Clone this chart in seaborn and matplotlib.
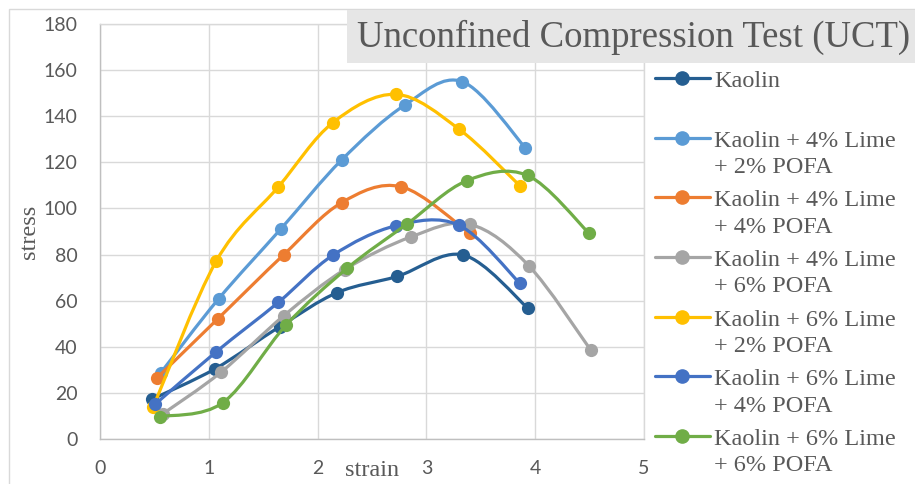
import numpy as np
import pandas as pd
import matplotlib
matplotlib.use("Agg")
import matplotlib.pyplot as plt
from matplotlib.path import Path
from matplotlib.patches import PathPatch, Rectangle
from matplotlib.lines import Line2D
from matplotlib.legend_handler import HandlerLine2D
import seaborn as sns

# ---------------- data ----------------
series_names = [
    "Kaolin\n ",
    "Kaolin + 4% Lime\n+ 2% POFA",
    "Kaolin + 4% Lime\n+ 4% POFA",
    "Kaolin + 4% Lime\n+ 6% POFA",
    "Kaolin + 6% Lime\n+ 2% POFA",
    "Kaolin + 6% Lime\n+ 4% POFA",
    "Kaolin + 6% Lime\n+ 6% POFA",
]
strain_kaolin = [0.48, 1.06, 1.65, 2.18, 2.73, 3.34, 3.93]
stress_kaolin = [17.3, 30.5, 48.7, 63.5, 70.5, 79.8, 56.9]
strain_l4p2 = [0.56, 1.09, 1.66, 2.22, 2.80, 3.33, 3.91]
stress_l4p2 = [28.8, 60.8, 91.0, 121.0, 144.8, 155.0, 126.3]
strain_l4p4 = [0.52, 1.08, 1.69, 2.22, 2.77, 3.40]
stress_l4p4 = [26.3, 52.0, 80.0, 102.5, 109.4, 89.2]
strain_l4p6 = [0.58, 1.11, 1.69, 2.25, 2.86, 3.40, 3.94, 4.51]
stress_l4p6 = [11.0, 28.9, 53.5, 73.5, 87.7, 93.1, 75.2, 38.6]
strain_l6p2 = [0.49, 1.07, 1.64, 2.14, 2.72, 3.30, 3.86]
stress_l6p2 = [14.0, 77.3, 109.4, 137.2, 149.5, 134.4, 109.8]
strain_l6p4 = [0.51, 1.07, 1.64, 2.14, 2.72, 3.30, 3.86]
stress_l6p4 = [15.2, 37.9, 59.3, 79.7, 92.5, 92.7, 67.5]
strain_l6p6 = [0.55, 1.13, 1.71, 2.27, 2.82, 3.37, 3.93, 4.49]
stress_l6p6 = [9.7, 15.8, 49.4, 74.0, 93.2, 112.0, 114.3, 89.5]

strains = [strain_kaolin, strain_l4p2, strain_l4p4, strain_l4p6,
           strain_l6p2, strain_l6p4, strain_l6p6]
stresses = [stress_kaolin, stress_l4p2, stress_l4p4, stress_l4p6,
            stress_l6p2, stress_l6p4, stress_l6p6]
colors = ["#255E91", "#5B9BD5", "#ED7D31", "#A5A5A5", "#FFC000", "#4472C4", "#70AD47"]

x_ticks = [0, 1, 2, 3, 4, 5]
y_ticks = [0, 20, 40, 60, 80, 100, 120, 140, 160, 180]

rows = []
for name, xs, ys in zip(series_names, strains, stresses):
    for x, y in zip(xs, ys):
        rows.append({"series": name, "strain": x, "stress": y})
df = pd.DataFrame(rows)

# ---------------- figure ----------------
sns.set_theme(style="white")
plt.rcParams["font.family"] = ["Liberation Serif", "DejaVu Serif"]

W, H = 915, 484
fig = plt.figure(figsize=(W / 100, H / 100), dpi=100)
ax = fig.add_axes([100 / W, 1 - 439 / H, 544 / W, 415 / H])

text_grey = "#595959"
grid_grey = "#D9D9D9"


def smooth_path(xs, ys):
    pts = np.column_stack([xs, ys]).astype(float)
    n = len(pts)
    verts = [pts[0]]
    codes = [Path.MOVETO]
    for i in range(n - 1):
        p0 = pts[i - 1] if i > 0 else pts[i]
        p1 = pts[i]
        p2 = pts[i + 1]
        p3 = pts[i + 2] if i + 2 < n else pts[i + 1]
        c1 = p1 + (p2 - p0) / 6.0
        c2 = p2 - (p3 - p1) / 6.0
        verts += [c1, c2, p2]
        codes += [Path.CURVE4] * 3
    return Path(verts, codes)


lw = 2.3
ms = 9.5
for k, (name, xs, ys, c) in enumerate(zip(series_names, strains, stresses, colors)):
    patch = PathPatch(smooth_path(xs, ys), facecolor="none", edgecolor=c,
                      lw=lw, zorder=3 + 2 * k, capstyle="round", joinstyle="round")
    ax.add_patch(patch)
    sub = df[df["series"] == name]
    sns.scatterplot(data=sub, x="strain", y="stress", color=c, s=ms ** 2,
                    edgecolor=c, linewidth=0, ax=ax, zorder=4 + 2 * k, legend=False)

ax.set_xlim(0, 5)
ax.set_ylim(0, 180)
ax.set_xticks(x_ticks)
ax.set_yticks(y_ticks)
ax.grid(True, color=grid_grey, lw=1.0)
ax.set_axisbelow(True)
for sp in ax.spines.values():
    sp.set_color(grid_grey)
    sp.set_linewidth(1.0)
ax.spines["left"].set_color("#BFBFBF")
ax.spines["bottom"].set_color("#BFBFBF")
ax.tick_params(axis="both", length=0, colors=text_grey, labelsize=14)
ax.tick_params(axis="y", pad=16)
ax.tick_params(axis="x", pad=15)
for lab in ax.get_xticklabels() + ax.get_yticklabels():
    lab.set_family(["Lato", "DejaVu Sans"])

ax.set_xlabel("strain", fontsize=17.5, color=text_grey)
ax.set_ylabel("stress", fontsize=17.5, color=text_grey)
ax.xaxis.set_label_coords(0.5, (439 - 470) / 415, transform=ax.transAxes)
ax.yaxis.set_label_coords((30 - 100) / 544, 0.5, transform=ax.transAxes)
ax.xaxis.label.set_va("center")
ax.yaxis.label.set_va("center")

# outer chart border
fig.add_artist(Rectangle((9 / W, -0.1), 2, 1 - 9 / H + 0.1, transform=fig.transFigure,
                         facecolor="none", edgecolor=grid_grey, lw=1.0, zorder=0))

# title box
fig.add_artist(Rectangle((347 / W, 1 - 63 / H), 1, 53 / H, transform=fig.transFigure,
                         facecolor="#E6E6E6", edgecolor="none", zorder=20))
fig.text(357 / W, 1 - 37 / H, "Unconfined Compression Test (UCT)", fontsize=26.5,
         color=text_grey, ha="left", va="center", zorder=21)

# legend (handle aligned with first text line)
leg_fs = 17.5
leg_linespacing = 1.33


class FirstLineHandler(HandlerLine2D):
    def create_artists(self, legend, orig_handle, xdescent, ydescent, width,
                       height, fontsize, trans):
        arts = super().create_artists(legend, orig_handle, xdescent, ydescent,
                                      width, height, fontsize, trans)
        dy = 0.66 * fontsize
        for a in arts:
            a.set_ydata(np.asarray(a.get_ydata(), dtype=float) + dy)
        return arts


handles = [Line2D([], [], color=c, lw=lw, marker="o", markersize=ms,
                  markerfacecolor=c, markeredgecolor=c) for c in colors]
leg = fig.legend(handles, series_names, loc="upper left",
                 bbox_to_anchor=(655 / W, 1 - 71 / H), frameon=False,
                 fontsize=leg_fs, handlelength=2.25, handletextpad=0.17,
                 labelspacing=0.51, borderaxespad=0, borderpad=0,
                 handler_map={Line2D: FirstLineHandler()})
for t in leg.get_texts():
    t.set_color(text_grey)
    t.set_linespacing(leg_linespacing)

fig.savefig("out.png", dpi=100)
